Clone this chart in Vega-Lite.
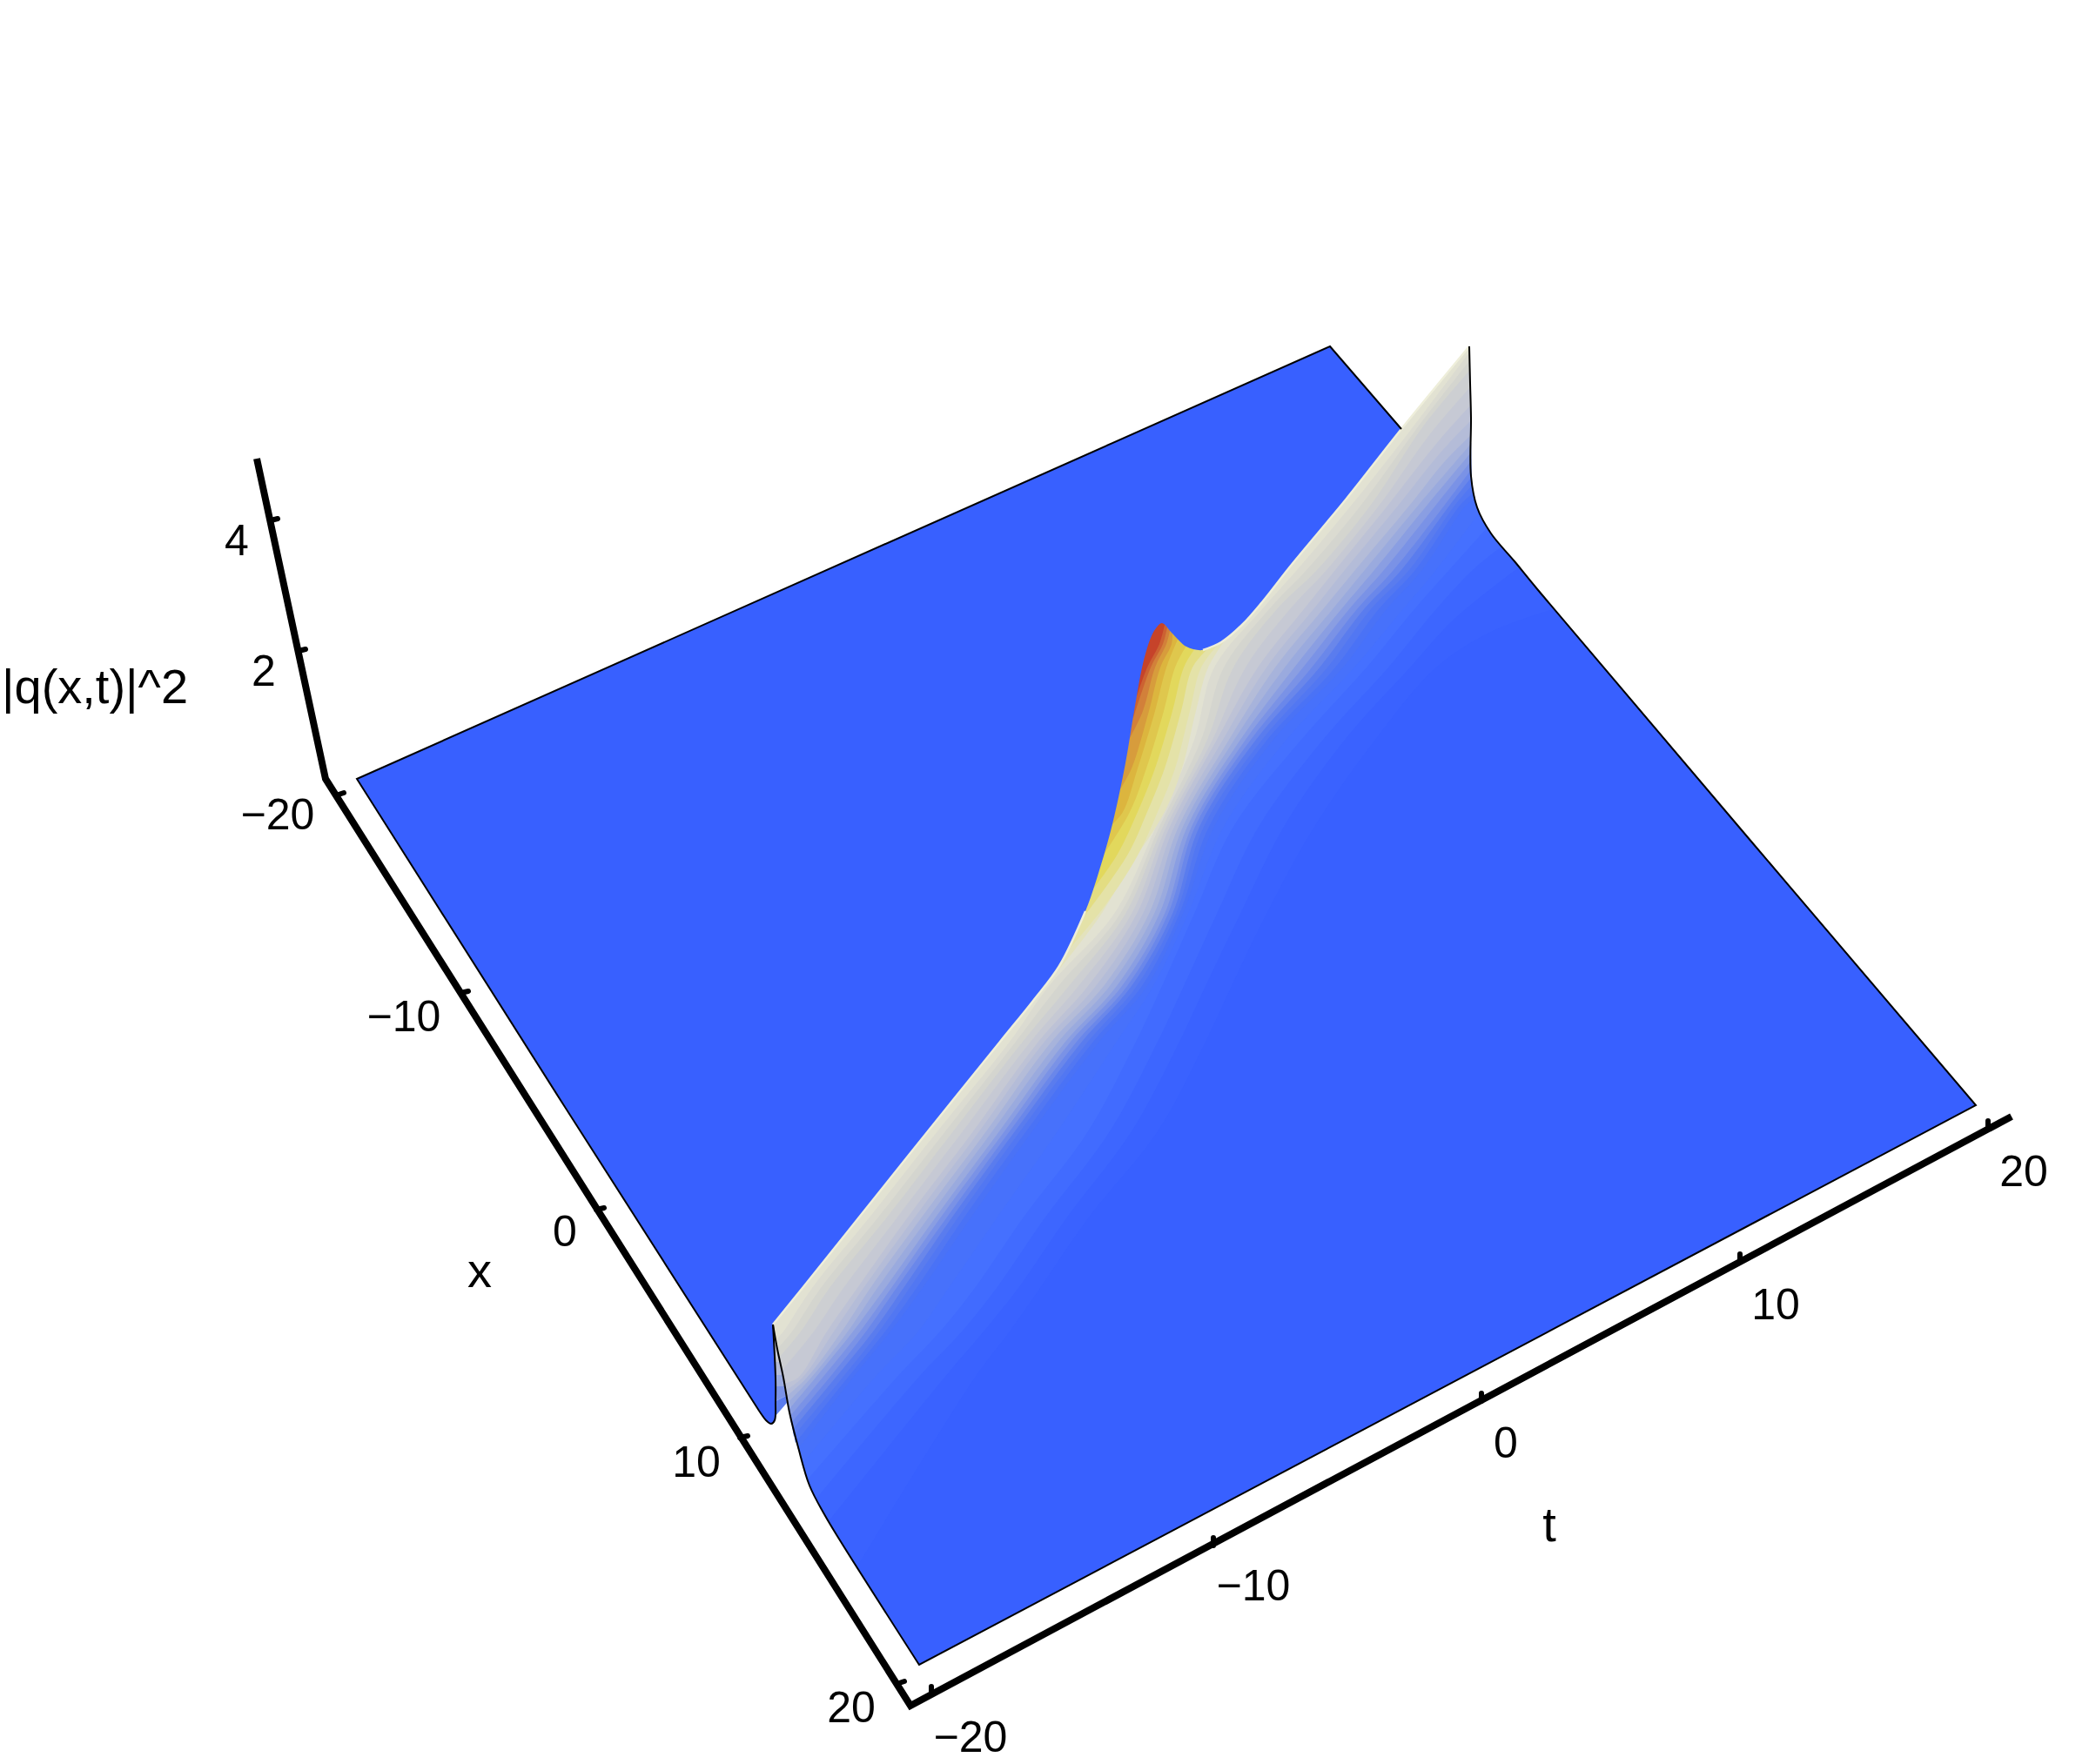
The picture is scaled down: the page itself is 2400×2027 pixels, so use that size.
{"$schema":"https://vega.github.io/schema/vega-lite/v6.json","width":2400,"height":2027,"padding":0,"autosize":{"type":"fit","contains":"padding"},"background":"white","config":{"view":{"stroke":null}},
"datasets":{
"surface":[
{"z":-1,"u":888,"v":1522},{"z":-1,"u":893,"v":1550},{"z":-1,"u":900,"v":1583},{"z":-1,"u":907,"v":1623},{"z":-1,"u":917,"v":1663},{"z":-1,"u":930,"v":1707},{"z":-1,"u":947,"v":1740},{"z":-1,"u":965,"v":1770},{"z":-1,"u":1056,"v":1913},{"z":-1,"u":1056,"v":1913},{"z":-1,"u":2270,"v":1270},{"z":-1,"u":2270,"v":1270},{"z":-1,"u":1767,"v":678},{"z":-1,"u":1740,"v":645},{"z":-1,"u":1713,"v":613},{"z":-1,"u":1697,"v":583},{"z":-1,"u":1690,"v":547},{"z":-1,"u":1690,"v":480},{"z":-1,"u":1689,"v":440},{"z":-1,"u":1688,"v":398},{"z":-1,"u":1688,"v":398},{"z":-1,"u":1610,"v":493},{"z":-1,"u":1610,"v":493},{"z":-1,"u":1300,"v":700},
{"z":-0.5,"u":888,"v":1522},{"z":-0.5,"u":900,"v":1583},{"z":-0.5,"u":907,"v":1623},{"z":-0.5,"u":917,"v":1663},{"z":-0.5,"u":930,"v":1707},{"z":-0.5,"u":947,"v":1740},{"z":-0.5,"u":965,"v":1770},{"z":-0.5,"u":985,"v":1800},{"z":-0.5,"u":985,"v":1800},{"z":-0.5,"u":1120,"v":1583},{"z":-0.5,"u":1160,"v":1530},{"z":-0.5,"u":1195,"v":1480},{"z":-0.5,"u":1250,"v":1400},{"z":-0.5,"u":1330,"v":1300},{"z":-0.5,"u":1385,"v":1197},{"z":-0.5,"u":1415,"v":1133},{"z":-0.5,"u":1455,"v":1050},{"z":-0.5,"u":1510,"v":950},{"z":-0.5,"u":1580,"v":850},{"z":-0.5,"u":1650,"v":767},{"z":-0.5,"u":1715,"v":725},{"z":-0.5,"u":1785,"v":700},{"z":-0.5,"u":1785,"v":700},{"z":-0.5,"u":1767,"v":678},{"z":-0.5,"u":1740,"v":645},{"z":-0.5,"u":1713,"v":613},{"z":-0.5,"u":1697,"v":583},{"z":-0.5,"u":1690,"v":547},{"z":-0.5,"u":1688,"v":398},{"z":-0.5,"u":1688,"v":398},{"z":-0.5,"u":1610,"v":493},{"z":-0.5,"u":1610,"v":493},{"z":-0.5,"u":1300,"v":700},
{"z":0,"u":888,"v":1522},{"z":0,"u":900,"v":1583},{"z":0,"u":907,"v":1623},{"z":0,"u":917,"v":1663},{"z":0,"u":930,"v":1707},{"z":0,"u":952,"v":1748},{"z":0,"u":952,"v":1748},{"z":0,"u":1085,"v":1583},{"z":0,"u":1130,"v":1530},{"z":0,"u":1170,"v":1480},{"z":0,"u":1225,"v":1400},{"z":0,"u":1300,"v":1300},{"z":0,"u":1355,"v":1197},{"z":0,"u":1385,"v":1133},{"z":0,"u":1425,"v":1050},{"z":0,"u":1475,"v":950},{"z":0,"u":1545,"v":850},{"z":0,"u":1620,"v":767},{"z":0,"u":1670,"v":712},{"z":0,"u":1745,"v":652},{"z":0,"u":1745,"v":652},{"z":0,"u":1713,"v":613},{"z":0,"u":1697,"v":583},{"z":0,"u":1690,"v":547},{"z":0,"u":1688,"v":398},{"z":0,"u":1688,"v":398},{"z":0,"u":1610,"v":493},{"z":0,"u":1610,"v":493},{"z":0,"u":1300,"v":700},
{"z":0.5,"u":888,"v":1522},{"z":0.5,"u":900,"v":1583},{"z":0.5,"u":907,"v":1623},{"z":0.5,"u":917,"v":1663},{"z":0.5,"u":938,"v":1722},{"z":0.5,"u":938,"v":1722},{"z":0.5,"u":1055,"v":1583},{"z":0.5,"u":1105,"v":1530},{"z":0.5,"u":1145,"v":1480},{"z":0.5,"u":1200,"v":1400},{"z":0.5,"u":1275,"v":1300},{"z":0.5,"u":1330,"v":1197},{"z":0.5,"u":1360,"v":1133},{"z":0.5,"u":1398,"v":1050},{"z":0.5,"u":1446,"v":950},{"z":0.5,"u":1520,"v":850},{"z":0.5,"u":1595,"v":767},{"z":0.5,"u":1650,"v":700},{"z":0.5,"u":1692,"v":655},{"z":0.5,"u":1725,"v":628},{"z":0.5,"u":1725,"v":628},{"z":0.5,"u":1713,"v":613},{"z":0.5,"u":1697,"v":583},{"z":0.5,"u":1690,"v":547},{"z":0.5,"u":1688,"v":398},{"z":0.5,"u":1688,"v":398},{"z":0.5,"u":1610,"v":493},{"z":0.5,"u":1610,"v":493},{"z":0.5,"u":1300,"v":700},
{"z":1,"u":888,"v":1522},{"z":1,"u":900,"v":1583},{"z":1,"u":907,"v":1623},{"z":1,"u":917,"v":1663},{"z":1,"u":928,"v":1700},{"z":1,"u":928,"v":1700},{"z":1,"u":1030,"v":1583},{"z":1,"u":1080,"v":1530},{"z":1,"u":1120,"v":1480},{"z":1,"u":1175,"v":1400},{"z":1,"u":1250,"v":1300},{"z":1,"u":1305,"v":1197},{"z":1,"u":1335,"v":1133},{"z":1,"u":1372,"v":1050},{"z":1,"u":1417,"v":950},{"z":1,"u":1495,"v":850},{"z":1,"u":1570,"v":767},{"z":1,"u":1625,"v":700},{"z":1,"u":1665,"v":655},{"z":1,"u":1708,"v":607},{"z":1,"u":1708,"v":607},{"z":1,"u":1697,"v":583},{"z":1,"u":1690,"v":547},{"z":1,"u":1688,"v":398},{"z":1,"u":1688,"v":398},{"z":1,"u":1610,"v":493},{"z":1,"u":1610,"v":493},{"z":1,"u":1300,"v":700},
{"z":1.5,"u":888,"v":1522},{"z":1.5,"u":900,"v":1583},{"z":1.5,"u":907,"v":1623},{"z":1.5,"u":922,"v":1682},{"z":1.5,"u":922,"v":1682},{"z":1.5,"u":1005,"v":1583},{"z":1.5,"u":1055,"v":1530},{"z":1.5,"u":1090,"v":1480},{"z":1.5,"u":1145,"v":1400},{"z":1.5,"u":1215,"v":1300},{"z":1.5,"u":1283,"v":1197},{"z":1.5,"u":1325,"v":1133},{"z":1.5,"u":1365,"v":1050},{"z":1.5,"u":1406,"v":950},{"z":1.5,"u":1478,"v":850},{"z":1.5,"u":1556,"v":767},{"z":1.5,"u":1612,"v":700},{"z":1.5,"u":1650,"v":655},{"z":1.5,"u":1699,"v":590},{"z":1.5,"u":1699,"v":590},{"z":1.5,"u":1690,"v":547},{"z":1.5,"u":1688,"v":398},{"z":1.5,"u":1688,"v":398},{"z":1.5,"u":1610,"v":493},{"z":1.5,"u":1610,"v":493},{"z":1.5,"u":1300,"v":700},
{"z":2,"u":888,"v":1522},{"z":2,"u":900,"v":1583},{"z":2,"u":917,"v":1665},{"z":2,"u":917,"v":1665},{"z":2,"u":980,"v":1583},{"z":2,"u":1023,"v":1530},{"z":2,"u":1060,"v":1480},{"z":2,"u":1115,"v":1400},{"z":2,"u":1186,"v":1300},{"z":2,"u":1263,"v":1197},{"z":2,"u":1318,"v":1133},{"z":2,"u":1359,"v":1050},{"z":2,"u":1395,"v":950},{"z":2,"u":1463,"v":850},{"z":2,"u":1543,"v":767},{"z":2,"u":1593,"v":700},{"z":2,"u":1634,"v":655},{"z":2,"u":1685,"v":580},{"z":2,"u":1694,"v":575},{"z":2,"u":1694,"v":575},{"z":2,"u":1690,"v":547},{"z":2,"u":1688,"v":398},{"z":2,"u":1688,"v":398},{"z":2,"u":1610,"v":493},{"z":2,"u":1610,"v":493},{"z":2,"u":1300,"v":700},
{"z":2.5,"u":888,"v":1522},{"z":2.5,"u":900,"v":1583},{"z":2.5,"u":914,"v":1658},{"z":2.5,"u":914,"v":1658},{"z":2.5,"u":974,"v":1583},{"z":2.5,"u":1017,"v":1530},{"z":2.5,"u":1053,"v":1480},{"z":2.5,"u":1107,"v":1400},{"z":2.5,"u":1179,"v":1300},{"z":2.5,"u":1256,"v":1197},{"z":2.5,"u":1312,"v":1133},{"z":2.5,"u":1355,"v":1050},{"z":2.5,"u":1389,"v":950},{"z":2.5,"u":1456,"v":850},{"z":2.5,"u":1534,"v":767},{"z":2.5,"u":1584,"v":700},{"z":2.5,"u":1626,"v":655},{"z":2.5,"u":1678,"v":580},{"z":2.5,"u":1692,"v":567},{"z":2.5,"u":1692,"v":567},{"z":2.5,"u":1690,"v":547},{"z":2.5,"u":1688,"v":398},{"z":2.5,"u":1688,"v":398},{"z":2.5,"u":1610,"v":493},{"z":2.5,"u":1610,"v":493},{"z":2.5,"u":1300,"v":700},
{"z":3,"u":888,"v":1522},{"z":3,"u":900,"v":1583},{"z":3,"u":912,"v":1650},{"z":3,"u":912,"v":1650},{"z":3,"u":968,"v":1583},{"z":3,"u":1010,"v":1530},{"z":3,"u":1045,"v":1480},{"z":3,"u":1100,"v":1400},{"z":3,"u":1172,"v":1300},{"z":3,"u":1250,"v":1197},{"z":3,"u":1306,"v":1133},{"z":3,"u":1351,"v":1050},{"z":3,"u":1383,"v":950},{"z":3,"u":1450,"v":850},{"z":3,"u":1525,"v":767},{"z":3,"u":1575,"v":700},{"z":3,"u":1619,"v":655},{"z":3,"u":1672,"v":580},{"z":3,"u":1691,"v":558},{"z":3,"u":1691,"v":558},{"z":3,"u":1688,"v":398},{"z":3,"u":1688,"v":398},{"z":3,"u":1610,"v":493},{"z":3,"u":1610,"v":493},{"z":3,"u":1300,"v":700},
{"z":3.5,"u":888,"v":1522},{"z":3.5,"u":900,"v":1583},{"z":3.5,"u":911,"v":1642},{"z":3.5,"u":911,"v":1642},{"z":3.5,"u":960,"v":1583},{"z":3.5,"u":1003,"v":1530},{"z":3.5,"u":1038,"v":1480},{"z":3.5,"u":1093,"v":1400},{"z":3.5,"u":1166,"v":1300},{"z":3.5,"u":1243,"v":1197},{"z":3.5,"u":1300,"v":1133},{"z":3.5,"u":1347,"v":1050},{"z":3.5,"u":1378,"v":950},{"z":3.5,"u":1443,"v":850},{"z":3.5,"u":1516,"v":767},{"z":3.5,"u":1567,"v":700},{"z":3.5,"u":1610,"v":655},{"z":3.5,"u":1666,"v":580},{"z":3.5,"u":1690,"v":549},{"z":3.5,"u":1690,"v":549},{"z":3.5,"u":1688,"v":398},{"z":3.5,"u":1688,"v":398},{"z":3.5,"u":1610,"v":493},{"z":3.5,"u":1610,"v":493},{"z":3.5,"u":1300,"v":700},
{"z":4,"u":888,"v":1522},{"z":4,"u":900,"v":1583},{"z":4,"u":909,"v":1635},{"z":4,"u":909,"v":1635},{"z":4,"u":953,"v":1583},{"z":4,"u":995,"v":1530},{"z":4,"u":1030,"v":1480},{"z":4,"u":1087,"v":1400},{"z":4,"u":1160,"v":1300},{"z":4,"u":1237,"v":1197},{"z":4,"u":1295,"v":1133},{"z":4,"u":1342,"v":1050},{"z":4,"u":1373,"v":950},{"z":4,"u":1437,"v":850},{"z":4,"u":1507,"v":767},{"z":4,"u":1559,"v":700},{"z":4,"u":1601,"v":655},{"z":4,"u":1660,"v":580},{"z":4,"u":1690,"v":540},{"z":4,"u":1690,"v":540},{"z":4,"u":1688,"v":398},{"z":4,"u":1688,"v":398},{"z":4,"u":1610,"v":493},{"z":4,"u":1610,"v":493},{"z":4,"u":1300,"v":700},
{"z":4.5,"u":888,"v":1522},{"z":4.5,"u":900,"v":1583},{"z":4.5,"u":908,"v":1627},{"z":4.5,"u":908,"v":1627},{"z":4.5,"u":945,"v":1583},{"z":4.5,"u":988,"v":1530},{"z":4.5,"u":1024,"v":1480},{"z":4.5,"u":1080,"v":1400},{"z":4.5,"u":1154,"v":1300},{"z":4.5,"u":1230,"v":1197},{"z":4.5,"u":1289,"v":1133},{"z":4.5,"u":1338,"v":1050},{"z":4.5,"u":1369,"v":950},{"z":4.5,"u":1431,"v":850},{"z":4.5,"u":1497,"v":767},{"z":4.5,"u":1550,"v":700},{"z":4.5,"u":1590,"v":655},{"z":4.5,"u":1650,"v":580},{"z":4.5,"u":1690,"v":530},{"z":4.5,"u":1690,"v":530},{"z":4.5,"u":1688,"v":398},{"z":4.5,"u":1688,"v":398},{"z":4.5,"u":1610,"v":493},{"z":4.5,"u":1610,"v":493},{"z":4.5,"u":1300,"v":700},
{"z":5,"u":888,"v":1522},{"z":5,"u":900,"v":1583},{"z":5,"u":906,"v":1620},{"z":5,"u":906,"v":1620},{"z":5,"u":937,"v":1583},{"z":5,"u":980,"v":1530},{"z":5,"u":1017,"v":1480},{"z":5,"u":1074,"v":1400},{"z":5,"u":1148,"v":1300},{"z":5,"u":1224,"v":1197},{"z":5,"u":1283,"v":1133},{"z":5,"u":1332,"v":1050},{"z":5,"u":1364,"v":950},{"z":5,"u":1425,"v":850},{"z":5,"u":1487,"v":767},{"z":5,"u":1541,"v":700},{"z":5,"u":1579,"v":655},{"z":5,"u":1640,"v":580},{"z":5,"u":1690,"v":520},{"z":5,"u":1690,"v":520},{"z":5,"u":1688,"v":398},{"z":5,"u":1688,"v":398},{"z":5,"u":1610,"v":493},{"z":5,"u":1610,"v":493},{"z":5,"u":1300,"v":700},
{"z":5.5,"u":888,"v":1522},{"z":5.5,"u":900,"v":1583},{"z":5.5,"u":905,"v":1612},{"z":5.5,"u":905,"v":1612},{"z":5.5,"u":932,"v":1583},{"z":5.5,"u":974,"v":1530},{"z":5.5,"u":1008,"v":1480},{"z":5.5,"u":1066,"v":1400},{"z":5.5,"u":1140,"v":1300},{"z":5.5,"u":1216,"v":1197},{"z":5.5,"u":1275,"v":1133},{"z":5.5,"u":1326,"v":1050},{"z":5.5,"u":1359,"v":950},{"z":5.5,"u":1418,"v":850},{"z":5.5,"u":1476,"v":767},{"z":5.5,"u":1531,"v":700},{"z":5.5,"u":1568,"v":655},{"z":5.5,"u":1630,"v":580},{"z":5.5,"u":1690,"v":510},{"z":5.5,"u":1690,"v":510},{"z":5.5,"u":1688,"v":398},{"z":5.5,"u":1688,"v":398},{"z":5.5,"u":1610,"v":493},{"z":5.5,"u":1610,"v":493},{"z":5.5,"u":1300,"v":700},
{"z":6,"u":888,"v":1522},{"z":6,"u":900,"v":1583},{"z":6,"u":903,"v":1605},{"z":6,"u":903,"v":1605},{"z":6,"u":927,"v":1583},{"z":6,"u":967,"v":1530},{"z":6,"u":1000,"v":1480},{"z":6,"u":1058,"v":1400},{"z":6,"u":1133,"v":1300},{"z":6,"u":1208,"v":1197},{"z":6,"u":1268,"v":1133},{"z":6,"u":1320,"v":1050},{"z":6,"u":1354,"v":950},{"z":6,"u":1412,"v":850},{"z":6,"u":1465,"v":767},{"z":6,"u":1520,"v":700},{"z":6,"u":1557,"v":655},{"z":6,"u":1620,"v":580},{"z":6,"u":1660,"v":530},{"z":6,"u":1690,"v":500},{"z":6,"u":1690,"v":500},{"z":6,"u":1688,"v":398},{"z":6,"u":1688,"v":398},{"z":6,"u":1610,"v":493},{"z":6,"u":1610,"v":493},{"z":6,"u":1300,"v":700},
{"z":6.5,"u":888,"v":1522},{"z":6.5,"u":900,"v":1583},{"z":6.5,"u":902,"v":1598},{"z":6.5,"u":902,"v":1598},{"z":6.5,"u":922,"v":1583},{"z":6.5,"u":958,"v":1530},{"z":6.5,"u":992,"v":1480},{"z":6.5,"u":1050,"v":1400},{"z":6.5,"u":1125,"v":1300},{"z":6.5,"u":1200,"v":1197},{"z":6.5,"u":1259,"v":1133},{"z":6.5,"u":1313,"v":1050},{"z":6.5,"u":1349,"v":950},{"z":6.5,"u":1405,"v":850},{"z":6.5,"u":1455,"v":767},{"z":6.5,"u":1509,"v":700},{"z":6.5,"u":1545,"v":655},{"z":6.5,"u":1607,"v":580},{"z":6.5,"u":1655,"v":520},{"z":6.5,"u":1690,"v":483},{"z":6.5,"u":1690,"v":483},{"z":6.5,"u":1688,"v":398},{"z":6.5,"u":1688,"v":398},{"z":6.5,"u":1610,"v":493},{"z":6.5,"u":1610,"v":493},{"z":6.5,"u":1300,"v":700},
{"z":7,"u":888,"v":1522},{"z":7,"u":900,"v":1590},{"z":7,"u":900,"v":1590},{"z":7,"u":917,"v":1583},{"z":7,"u":950,"v":1530},{"z":7,"u":985,"v":1480},{"z":7,"u":1042,"v":1400},{"z":7,"u":1118,"v":1300},{"z":7,"u":1193,"v":1197},{"z":7,"u":1250,"v":1133},{"z":7,"u":1306,"v":1050},{"z":7,"u":1344,"v":950},{"z":7,"u":1398,"v":850},{"z":7,"u":1445,"v":767},{"z":7,"u":1498,"v":700},{"z":7,"u":1534,"v":655},{"z":7,"u":1595,"v":580},{"z":7,"u":1650,"v":510},{"z":7,"u":1690,"v":465},{"z":7,"u":1690,"v":465},{"z":7,"u":1688,"v":398},{"z":7,"u":1688,"v":398},{"z":7,"u":1610,"v":493},{"z":7,"u":1610,"v":493},{"z":7,"u":1300,"v":700},
{"z":7.5,"u":888,"v":1522},{"z":7.5,"u":898,"v":1575},{"z":7.5,"u":898,"v":1575},{"z":7.5,"u":935,"v":1530},{"z":7.5,"u":969,"v":1480},{"z":7.5,"u":1030,"v":1400},{"z":7.5,"u":1106,"v":1300},{"z":7.5,"u":1184,"v":1197},{"z":7.5,"u":1239,"v":1133},{"z":7.5,"u":1300,"v":1050},{"z":7.5,"u":1340,"v":950},{"z":7.5,"u":1393,"v":850},{"z":7.5,"u":1431,"v":767},{"z":7.5,"u":1482,"v":700},{"z":7.5,"u":1524,"v":655},{"z":7.5,"u":1585,"v":580},{"z":7.5,"u":1642,"v":500},{"z":7.5,"u":1689,"v":445},{"z":7.5,"u":1689,"v":445},{"z":7.5,"u":1688,"v":398},{"z":7.5,"u":1688,"v":398},{"z":7.5,"u":1610,"v":493},{"z":7.5,"u":1610,"v":493},{"z":7.5,"u":1300,"v":700},
{"z":8,"u":888,"v":1522},{"z":8,"u":895,"v":1560},{"z":8,"u":895,"v":1560},{"z":8,"u":920,"v":1530},{"z":8,"u":953,"v":1480},{"z":8,"u":1018,"v":1400},{"z":8,"u":1095,"v":1300},{"z":8,"u":1175,"v":1197},{"z":8,"u":1228,"v":1133},{"z":8,"u":1293,"v":1050},{"z":8,"u":1336,"v":950},{"z":8,"u":1387,"v":850},{"z":8,"u":1417,"v":767},{"z":8,"u":1467,"v":700},{"z":8,"u":1513,"v":655},{"z":8,"u":1575,"v":580},{"z":8,"u":1635,"v":490},{"z":8,"u":1689,"v":425},{"z":8,"u":1689,"v":425},{"z":8,"u":1688,"v":398},{"z":8,"u":1688,"v":398},{"z":8,"u":1610,"v":493},{"z":8,"u":1610,"v":493},{"z":8,"u":1300,"v":700},
{"z":8.5,"u":888,"v":1522},{"z":8.5,"u":893,"v":1550},{"z":8.5,"u":893,"v":1550},{"z":8.5,"u":910,"v":1530},{"z":8.5,"u":943,"v":1480},{"z":8.5,"u":1008,"v":1400},{"z":8.5,"u":1086,"v":1300},{"z":8.5,"u":1167,"v":1197},{"z":8.5,"u":1216,"v":1133},{"z":8.5,"u":1287,"v":1050},{"z":8.5,"u":1332,"v":950},{"z":8.5,"u":1380,"v":850},{"z":8.5,"u":1406,"v":767},{"z":8.5,"u":1458,"v":700},{"z":8.5,"u":1501,"v":655},{"z":8.5,"u":1564,"v":580},{"z":8.5,"u":1628,"v":492},{"z":8.5,"u":1688,"v":415},{"z":8.5,"u":1688,"v":415},{"z":8.5,"u":1688,"v":398},{"z":8.5,"u":1688,"v":398},{"z":8.5,"u":1610,"v":493},{"z":8.5,"u":1610,"v":493},{"z":8.5,"u":1300,"v":700},
{"z":9,"u":888,"v":1522},{"z":9,"u":891,"v":1540},{"z":9,"u":891,"v":1540},{"z":9,"u":900,"v":1530},{"z":9,"u":933,"v":1480},{"z":9,"u":998,"v":1400},{"z":9,"u":1077,"v":1300},{"z":9,"u":1160,"v":1197},{"z":9,"u":1205,"v":1133},{"z":9,"u":1280,"v":1050},{"z":9,"u":1328,"v":950},{"z":9,"u":1372,"v":850},{"z":9,"u":1395,"v":767},{"z":9,"u":1450,"v":700},{"z":9,"u":1490,"v":655},{"z":9,"u":1553,"v":580},{"z":9,"u":1620,"v":495},{"z":9,"u":1688,"v":405},{"z":9,"u":1688,"v":405},{"z":9,"u":1688,"v":398},{"z":9,"u":1688,"v":398},{"z":9,"u":1610,"v":493},{"z":9,"u":1610,"v":493},{"z":9,"u":1300,"v":700},
{"z":9.5,"u":1200,"v":1135},{"z":9.5,"u":1200,"v":1135},{"z":9.5,"u":1262,"v":1055},{"z":9.5,"u":1295,"v":1000},{"z":9.5,"u":1338,"v":933},{"z":9.5,"u":1358,"v":883},{"z":9.5,"u":1374,"v":817},{"z":9.5,"u":1388,"v":767},{"z":9.5,"u":1410,"v":732},{"z":9.5,"u":1410,"v":732},{"z":9.5,"u":1380,"v":700},{"z":9.5,"u":1250,"v":800},{"z":9.5,"u":1150,"v":1100},
{"z":10,"u":1222,"v":1098},{"z":10,"u":1222,"v":1098},{"z":10,"u":1270,"v":1040},{"z":10,"u":1307,"v":983},{"z":10,"u":1330,"v":933},{"z":10,"u":1350,"v":883},{"z":10,"u":1367,"v":817},{"z":10,"u":1380,"v":767},{"z":10,"u":1400,"v":740},{"z":10,"u":1400,"v":740},{"z":10,"u":1380,"v":700},{"z":10,"u":1250,"v":800},{"z":10,"u":1190,"v":1060},
{"z":10.5,"u":1240,"v":1060},{"z":10.5,"u":1240,"v":1060},{"z":10.5,"u":1295,"v":983},{"z":10.5,"u":1318,"v":933},{"z":10.5,"u":1338,"v":883},{"z":10.5,"u":1357,"v":817},{"z":10.5,"u":1370,"v":767},{"z":10.5,"u":1388,"v":745},{"z":10.5,"u":1388,"v":745},{"z":10.5,"u":1380,"v":700},{"z":10.5,"u":1250,"v":800},{"z":10.5,"u":1190,"v":1060},
{"z":11,"u":1257,"v":1020},{"z":11,"u":1257,"v":1020},{"z":11,"u":1283,"v":983},{"z":11,"u":1307,"v":933},{"z":11,"u":1327,"v":883},{"z":11,"u":1347,"v":817},{"z":11,"u":1360,"v":767},{"z":11,"u":1373,"v":745},{"z":11,"u":1373,"v":745},{"z":11,"u":1380,"v":700},{"z":11,"u":1250,"v":800},{"z":11,"u":1200,"v":1000},
{"z":11.5,"u":1266,"v":985},{"z":11.5,"u":1266,"v":985},{"z":11.5,"u":1298,"v":933},{"z":11.5,"u":1317,"v":883},{"z":11.5,"u":1337,"v":817},{"z":11.5,"u":1350,"v":767},{"z":11.5,"u":1363,"v":742},{"z":11.5,"u":1363,"v":742},{"z":11.5,"u":1350,"v":695},{"z":11.5,"u":1250,"v":800},{"z":11.5,"u":1200,"v":1000},
{"z":12,"u":1275,"v":950},{"z":12,"u":1275,"v":950},{"z":12,"u":1290,"v":933},{"z":12,"u":1307,"v":883},{"z":12,"u":1327,"v":817},{"z":12,"u":1340,"v":767},{"z":12,"u":1353,"v":735},{"z":12,"u":1353,"v":735},{"z":12,"u":1340,"v":690},{"z":12,"u":1250,"v":800},{"z":12,"u":1230,"v":920},
{"z":12.5,"u":1285,"v":910},{"z":12.5,"u":1285,"v":910},{"z":12.5,"u":1300,"v":883},{"z":12.5,"u":1320,"v":817},{"z":12.5,"u":1333,"v":767},{"z":12.5,"u":1346,"v":740},{"z":12.5,"u":1347,"v":727},{"z":12.5,"u":1347,"v":727},{"z":12.5,"u":1340,"v":690},{"z":12.5,"u":1250,"v":800},{"z":12.5,"u":1230,"v":920},
{"z":13,"u":1297,"v":850},{"z":13,"u":1297,"v":850},{"z":13,"u":1313,"v":817},{"z":13,"u":1327,"v":767},{"z":13,"u":1340,"v":740},{"z":13,"u":1344,"v":725},{"z":13,"u":1344,"v":725},{"z":13,"u":1340,"v":690},{"z":13,"u":1250,"v":800},
{"z":13.5,"u":1302,"v":825},{"z":13.5,"u":1302,"v":825},{"z":13.5,"u":1322,"v":767},{"z":13.5,"u":1336,"v":740},{"z":13.5,"u":1341,"v":721},{"z":13.5,"u":1341,"v":721},{"z":13.5,"u":1335,"v":690},{"z":13.5,"u":1260,"v":790},
{"z":14,"u":1306,"v":800},{"z":14,"u":1306,"v":800},{"z":14,"u":1318,"v":767},{"z":14,"u":1332,"v":740},{"z":14,"u":1338,"v":718},{"z":14,"u":1338,"v":718},{"z":14,"u":1330,"v":690},{"z":14,"u":1260,"v":790}
],
"back":[
{"z":-1,"u":410,"v":895},{"z":-1,"u":410,"v":895},{"z":-1,"u":1528,"v":398},{"z":-1,"u":1528,"v":398},{"z":-1,"u":1610,"v":493},{"z":-1,"u":1610,"v":493},{"z":-1,"u":1547,"v":573},{"z":-1,"u":1483,"v":650},{"z":-1,"u":1450,"v":692},{"z":-1,"u":1427,"v":718},{"z":-1,"u":1403,"v":738},{"z":-1,"u":1382,"v":747},{"z":-1,"u":1363,"v":743},{"z":-1,"u":1347,"v":728},{"z":-1,"u":1335,"v":716},{"z":-1,"u":1328,"v":722},{"z":-1,"u":1322,"v":733},{"z":-1,"u":1313,"v":763},{"z":-1,"u":1303,"v":817},{"z":-1,"u":1293,"v":877},{"z":-1,"u":1278,"v":947},{"z":-1,"u":1263,"v":1000},{"z":-1,"u":1247,"v":1047},{"z":-1,"u":1217,"v":1110},{"z":-1,"u":1187,"v":1150},{"z":-1,"u":1149,"v":1197},{"z":-1,"u":1066,"v":1300},{"z":-1,"u":986,"v":1400},{"z":-1,"u":922,"v":1480},{"z":-1,"u":888,"v":1522},{"z":-1,"u":888,"v":1522},{"z":-1,"u":891,"v":1583},{"z":-1,"u":891,"v":1610},{"z":-1,"u":890,"v":1632},{"z":-1,"u":886,"v":1636},{"z":-1,"u":880,"v":1632},{"z":-1,"u":872,"v":1621}
],
"wedge":[
{"z":7,"u":888,"v":1522},{"z":7,"u":896,"v":1565},{"z":7,"u":891,"v":1565},
{"z":6,"u":891,"v":1565},{"z":6,"u":896,"v":1565},{"z":6,"u":899,"v":1580},{"z":6,"u":891,"v":1580},
{"z":5,"u":891,"v":1580},{"z":5,"u":899,"v":1580},{"z":5,"u":901,"v":1593},{"z":5,"u":891,"v":1593},
{"z":4,"u":891,"v":1593},{"z":4,"u":901,"v":1593},{"z":4,"u":903,"v":1604},{"z":4,"u":891,"v":1610},
{"z":3,"u":891,"v":1610},{"z":3,"u":903,"v":1604},{"z":3,"u":904,"v":1612},{"z":3,"u":891,"v":1627}
],
"crest":[
{"part":"a","u":888,"v":1522},{"part":"a","u":922,"v":1480},{"part":"a","u":986,"v":1400},{"part":"a","u":1066,"v":1300},{"part":"a","u":1149,"v":1197},{"part":"a","u":1187,"v":1150},{"part":"a","u":1217,"v":1110},{"part":"a","u":1247,"v":1047},
{"part":"b","u":1382,"v":747},{"part":"b","u":1403,"v":738},{"part":"b","u":1427,"v":718},{"part":"b","u":1450,"v":692},{"part":"b","u":1483,"v":650},{"part":"b","u":1547,"v":573},{"part":"b","u":1610,"v":493},{"part":"b","u":1688,"v":398}
],
"edges":[
{"part":"back","u":1610,"v":493},{"part":"back","u":1610,"v":493},{"part":"back","u":1528,"v":398},{"part":"back","u":1528,"v":398},{"part":"back","u":410,"v":895},{"part":"back","u":410,"v":895},{"part":"back","u":872,"v":1621},{"part":"back","u":880,"v":1632},{"part":"back","u":886,"v":1636},{"part":"back","u":890,"v":1632},{"part":"back","u":891,"v":1610},{"part":"back","u":891,"v":1583},{"part":"back","u":888,"v":1522},
{"part":"front","u":888,"v":1522},{"part":"front","u":893,"v":1550},{"part":"front","u":900,"v":1583},{"part":"front","u":907,"v":1623},{"part":"front","u":917,"v":1663},{"part":"front","u":930,"v":1707},{"part":"front","u":947,"v":1740},{"part":"front","u":965,"v":1770},{"part":"front","u":1056,"v":1913},{"part":"front","u":1056,"v":1913},{"part":"front","u":2270,"v":1270},{"part":"front","u":2270,"v":1270},{"part":"front","u":1767,"v":678},{"part":"front","u":1740,"v":645},{"part":"front","u":1713,"v":613},{"part":"front","u":1697,"v":583},{"part":"front","u":1690,"v":547},{"part":"front","u":1690,"v":480},{"part":"front","u":1689,"v":440},{"part":"front","u":1688,"v":398}
],
"axes":[
{"part":"frame","u":295,"v":527},{"part":"frame","u":374,"v":895},{"part":"frame","u":1046,"v":1960},{"part":"frame","u":2311,"v":1283}
],
"ticks":[
{"part":"z4","u":311,"v":598},{"part":"z4","u":319,"v":596},
{"part":"z2","u":343,"v":748},{"part":"z2","u":351,"v":746},
{"part":"xm20","u":386,"v":914},{"part":"xm20","u":395,"v":911},
{"part":"xm10","u":529,"v":1141},{"part":"xm10","u":538,"v":1139},
{"part":"x0","u":685,"v":1390},{"part":"x0","u":694,"v":1388},
{"part":"x10","u":850,"v":1652},{"part":"x10","u":859,"v":1650},
{"part":"x20","u":1030,"v":1935},{"part":"x20","u":1039,"v":1932},
{"part":"tm20","u":1070,"v":1947},{"part":"tm20","u":1070,"v":1938},
{"part":"tm10","u":1394,"v":1776},{"part":"tm10","u":1394,"v":1767},
{"part":"t0","u":1702,"v":1610},{"part":"t0","u":1702,"v":1601},
{"part":"t10","u":1999,"v":1450},{"part":"t10","u":1999,"v":1441},
{"part":"t20","u":2284,"v":1297},{"part":"t20","u":2284,"v":1288}
],
"ticklabels":[
{"label":"4","u":272,"v":623},{"label":"2","u":303,"v":773},{"label":"−20","u":319,"v":938},{"label":"−10","u":464,"v":1170},{"label":"0","u":649,"v":1417},{"label":"10","u":800,"v":1682},{"label":"20","u":978,"v":1964},{"label":"−20","u":1115,"v":1998},{"label":"−10","u":1440,"v":1824},{"label":"0","u":1730,"v":1660},{"label":"10","u":2040,"v":1501},{"label":"20","u":2325,"v":1348}
],
"titles":[
{"label":"|q(x,t)|^2","u":109,"v":791},{"label":"x","u":551,"v":1462},{"label":"t","u":1780,"v":1754}
]
},
"layer":[
{"data":{"name":"surface"},"mark":{"type":"line","filled":true,"strokeWidth":0,"interpolate":"catmull-rom"},"encoding":{"order":{"value":null},"fill":{"field":"z","type":"quantitative","legend":null,"scale":{"domain":[-1,-0.5,0,0.5,1,1.5,2,2.5,3,3.5,4,4.5,5,5.5,6,6.5,7,7.5,8,8.5,9,9.5,10,10.5,11,11.5,12,12.5,13,13.5,14],"range":["#3860ff","#3a62ff","#3d66ff","#416bff","#4570ff","#4771fb","#4a72f6","#5277f2","#5a7cee","#6a87ea","#7a92e6","#8a9ee2","#9aaade","#a7b3db","#b4bcd8","#bdc2d6","#c6c9d4","#cdcfd2","#d4d5cf","#dbdbd1","#e2e2d2","#e3e2bd","#e4e2a8","#e3dd82","#e2d85c","#dfc74d","#dcb53e","#d79c3c","#d2803a","#cc6232","#c6432a"]}}}},
{"data":{"name":"back"},"mark":{"type":"line","filled":true,"strokeWidth":0,"interpolate":"catmull-rom"},"encoding":{"order":{"value":null},"fill":{"field":"z","type":"quantitative","legend":null}}},
{"data":{"name":"wedge"},"mark":{"type":"line","filled":true,"strokeWidth":0},"encoding":{"order":{"value":null},"fill":{"field":"z","type":"quantitative","legend":null}}},
{"data":{"name":"crest"},"mark":{"type":"line","stroke":"#eeeeda","strokeWidth":2.5,"interpolate":"catmull-rom"},"encoding":{"order":{"value":null},"detail":{"field":"part"}}},
{"data":{"name":"edges"},"mark":{"type":"line","stroke":"#000000","strokeWidth":2,"interpolate":"catmull-rom"},"encoding":{"order":{"value":null},"detail":{"field":"part"}}},
{"data":{"name":"axes"},"mark":{"type":"line","stroke":"#000000","strokeWidth":8,"strokeJoin":"miter"},"encoding":{"order":{"value":null},"detail":{"field":"part"}}},
{"data":{"name":"ticks"},"mark":{"type":"line","stroke":"#000000","strokeWidth":6,"strokeCap":"round"},"encoding":{"order":{"value":null},"detail":{"field":"part"}}},
{"data":{"name":"ticklabels"},"mark":{"type":"text","font":"Liberation Sans","fontSize":50,"align":"center","baseline":"middle","color":"#000000"},"encoding":{"text":{"field":"label"}}},
{"data":{"name":"titles"},"mark":{"type":"text","font":"Liberation Sans","fontSize":56,"align":"center","baseline":"middle","color":"#000000"},"encoding":{"text":{"field":"label"}}}
],
"encoding":{
"x":{"field":"u","type":"quantitative","axis":null,"scale":{"domain":[0,2400],"nice":false,"zero":false}},
"y":{"field":"v","type":"quantitative","axis":null,"scale":{"domain":[2027,0],"nice":false,"zero":false}}
}}
